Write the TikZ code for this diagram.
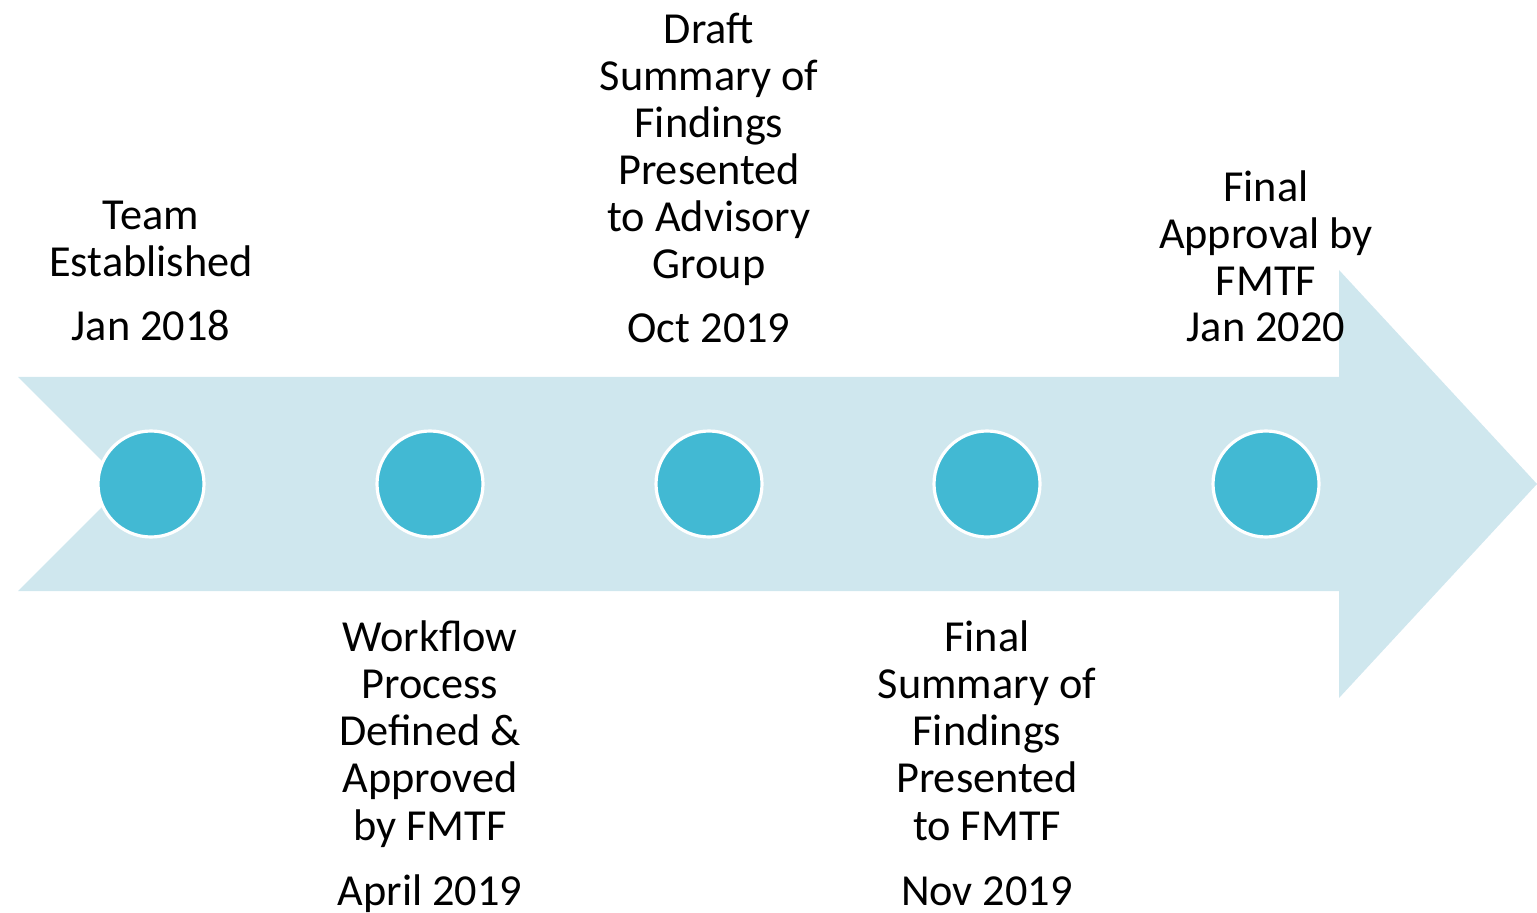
\documentclass[tikz,border=0pt]{standalone}
\usepackage{fontspec}
\setmainfont{Carlito}
\definecolor{arrowfill}{HTML}{CFE7EE}
\definecolor{dotfill}{HTML}{42B9D3}
\begin{document}
\begin{tikzpicture}[x=0.01cm,y=-0.01cm,
  dot/.style={circle,fill=dotfill,draw=white,line width=0.9pt,minimum size=106*0.01cm,inner sep=0pt},
  lbl/.style={align=center,anchor=base,inner sep=0pt,font=\fontsize{12.6pt}{13.37pt}\selectfont}]
\useasboundingbox (0,0) rectangle (1537,913);
% arrow
\fill[arrowfill] (18,377) -- (1339,377) -- (1339,270) -- (1537,484) -- (1339,698) -- (1339,591) -- (18,591) -- (125,484) -- cycle;
% dots
\foreach \n/\x in {d1/151,d2/430,d3/709,d4/987,d5/1266}
  \node[dot] (\n) at (\x,484) {};
% labels (anchor = baseline of last line)
\node[lbl] (t1) at (151,277) {Team\\Established};
\node[lbl] (a1) at (151,341) {Jan 2018};
\node[lbl] (t2) at (430,840) {Workflow\\Process\\Defined \&\\Approved\\by FMTF};
\node[lbl] (a2) at (430,905) {April 2019};
\node[lbl] (t3) at (709,279) {Draft\\Summary of\\Findings\\Presented\\to Advisory\\Group};
\node[lbl] (a3) at (709,343) {Oct 2019};
\node[lbl] (t4) at (987,840) {Final\\Summary of\\Findings\\Presented\\to FMTF};
\node[lbl] (a4) at (987,905) {Nov 2019};
\node[lbl] (t5) at (1266,296) {Final\\Approval by\\FMTF};
\node[lbl] (a5) at (1266,342) {Jan 2020};
\end{tikzpicture}
\end{document}
